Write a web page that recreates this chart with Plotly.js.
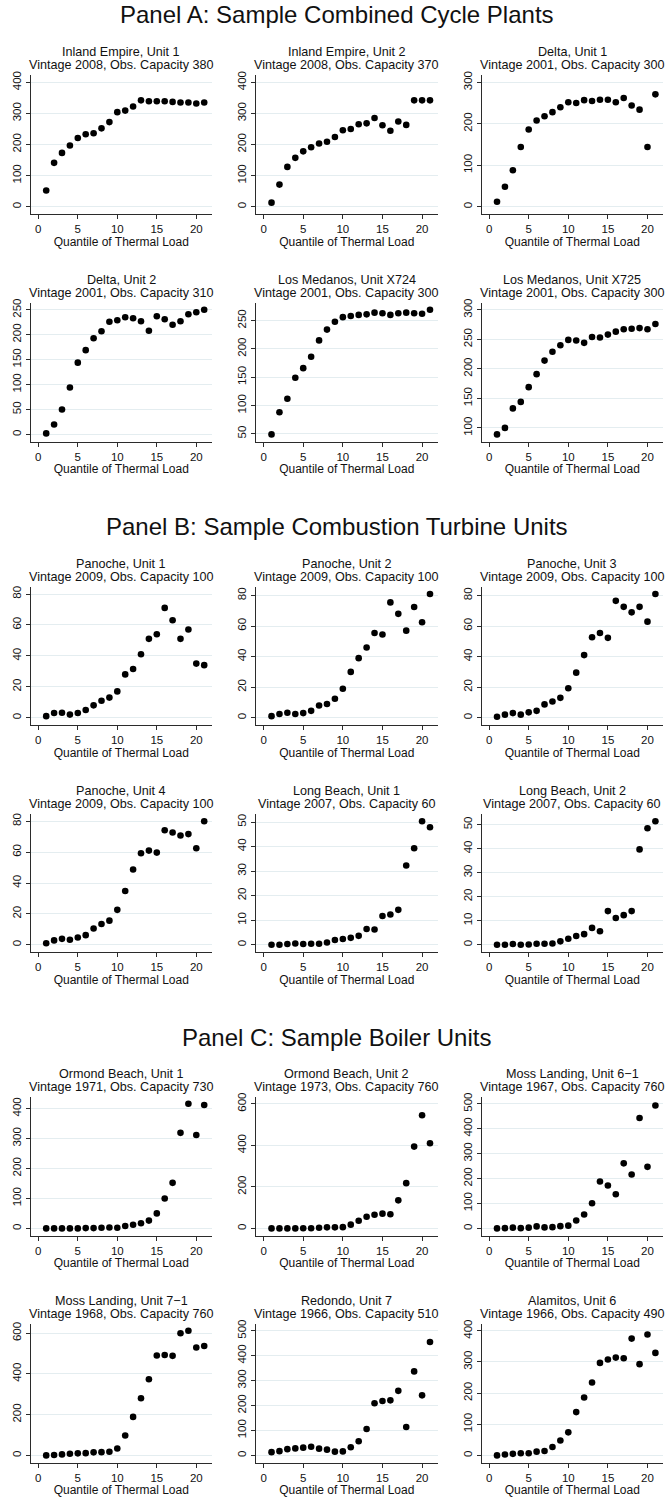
<!DOCTYPE html>
<html>
<head>
<meta charset="utf-8">
<script src="https://cdn.plot.ly/plotly-3.0.1.min.js"></script>
<style>html,body{margin:0;padding:0;background:#fff;}#chart{width:668px;height:1497px;}</style>
</head>
<body>
<div id="chart"></div>
<script>
// ---------- DATA ----------
const quantile = [1,2,3,4,5,6,7,8,9,10,11,12,13,14,15,16,17,18,19,20,21];
const xTicks = [0,5,10,15,20];
const xTitle = "Quantile of Thermal Load";

const panelTitles = [
  "Panel A: Sample Combined Cycle Plants",
  "Panel B: Sample Combustion Turbine Units",
  "Panel C: Sample Boiler Units"
];

const unitNames = [
  "Inland Empire, Unit 1", "Inland Empire, Unit 2", "Delta, Unit 1",
  "Delta, Unit 2", "Los Medanos, Unit X724", "Los Medanos, Unit X725",
  "Panoche, Unit 1", "Panoche, Unit 2", "Panoche, Unit 3",
  "Panoche, Unit 4", "Long Beach, Unit 1", "Long Beach, Unit 2",
  "Ormond Beach, Unit 1", "Ormond Beach, Unit 2", "Moss Landing, Unit 6\u22121",
  "Moss Landing, Unit 7\u22121", "Redondo, Unit 7", "Alamitos, Unit 6"
];
const unitInfo = [
  "Vintage 2008, Obs. Capacity 380", "Vintage 2008, Obs. Capacity 370", "Vintage 2001, Obs. Capacity 300",
  "Vintage 2001, Obs. Capacity 310", "Vintage 2001, Obs. Capacity 300", "Vintage 2001, Obs. Capacity 300",
  "Vintage 2009, Obs. Capacity 100", "Vintage 2009, Obs. Capacity 100", "Vintage 2009, Obs. Capacity 100",
  "Vintage 2009, Obs. Capacity 100", "Vintage 2007, Obs. Capacity 60", "Vintage 2007, Obs. Capacity 60",
  "Vintage 1971, Obs. Capacity 730", "Vintage 1973, Obs. Capacity 760", "Vintage 1967, Obs. Capacity 760",
  "Vintage 1968, Obs. Capacity 760", "Vintage 1966, Obs. Capacity 510", "Vintage 1966, Obs. Capacity 490"
];

const yTicks = [
  [0,100,200,300,400], [0,100,200,300,400], [0,100,200,300],
  [0,50,100,150,200,250], [50,100,150,200,250], [100,150,200,250,300],
  [0,20,40,60,80], [0,20,40,60,80], [0,20,40,60,80],
  [0,20,40,60,80], [0,10,20,30,40,50], [0,10,20,30,40,50],
  [0,100,200,300,400], [0,200,400,600], [0,100,200,300,400,500],
  [0,200,400,600], [0,100,200,300,400,500], [0,100,200,300,400]
];

const inlandEmpire1 = [52,141,173,197,221,233,236,252,272,304,309,322,342,339,339,339,337,335,335,332,335];
const inlandEmpire2 = [13,71,128,157,178,191,203,209,224,246,250,265,268,285,262,244,274,263,342,342,342];
const delta1       = [12,48,88,144,186,208,218,228,240,252,250,257,255,258,258,252,262,244,234,144,271];
const delta2       = [2,20,50,94,144,169,193,207,226,229,235,233,227,208,237,231,220,227,241,245,250];
const losMedanos724 = [49,88,112,149,166,186,215,234,248,256,258,260,261,264,263,260,263,264,263,262,269];
const losMedanos725 = [89,100,133,144,169,191,214,229,240,249,248,244,254,253,258,263,267,268,269,267,276];
const panoche1     = [1,3,3.2,2,3,5,8,11,13,17,28,31.5,41,51,54,71,63,51,57,35,34];
const panoche2     = [1,2.4,3.2,2.4,3,4.5,8,9,12.4,19,30,39,46,55.5,54.5,75.5,68,57,72.5,62.5,81];
const panoche3     = [0.6,2,3,2,3.5,4.5,8.7,10.6,13,19.3,29.5,41,52.7,55.5,52.3,76.5,72.6,69,72.6,62.9,81];
const panoche4     = [0.9,2.8,3.8,3.2,4.7,6.2,10.5,13.4,15.6,22.6,34.8,48.8,59.3,61,59.7,74.2,72.7,70.8,71.7,62.5,80];
const longBeach1   = [0,0,0.3,0.5,0.3,0.4,0.4,0.9,1.9,2.3,2.8,3.6,6.4,6.2,11.7,12.3,14.2,32.3,39.3,50.3,47.9];
const longBeach2   = [0,0,0.3,0,0.1,0.4,0.4,0.5,1.4,2.5,3.6,4.4,7.0,5.6,14,11.1,12.3,14,39.7,48.5,51.4];
const ormondBeach1 = [0,0,0,0,0,1,1,2,3,2,8,12,17,26,50,100,152,319,416,312,412];
const ormondBeach2 = [0,0,0,0,1,1,3,5,5,6,18,37,56,66,71,68,135,218,394,545,410];
const mossLanding61 = [0,1,3,1,3,8,4,5,9,11,32,56,101,188,172,137,261,216,443,247,493];
const mossLanding71 = [0,2,5,8,10,11,15,16,18,34,98,189,281,374,491,493,489,600,612,530,537];
const redondo7     = [13,17,25,28,31,35,27,23,15,16,33,57,106,209,218,221,259,114,337,241,455];
const alamitos6    = [0,3,5,7,7,12,14,27,48,74,139,186,234,297,308,314,312,375,293,388,329];

const seriesList = [
  inlandEmpire1, inlandEmpire2, delta1, delta2, losMedanos724, losMedanos725,
  panoche1, panoche2, panoche3, panoche4, longBeach1, longBeach2,
  ormondBeach1, ormondBeach2, mossLanding61, mossLanding71, redondo7, alamitos6
];

// ---------- GEOMETRY (pixels) ----------
const W = 668, H = 1497;
const colLeft  = [30.7, 256, 481.5];
const colRight = [211.8, 437.6, 663];
const rowTop    = [75, 302.5, 586.7, 814, 1096.5, 1323.5];
const rowBottom = [214, 441.7, 725, 952, 1235.7, 1462.7];
const panelTitleY = [14.5, 526, 1037.5];
const marginPx = 7.3;

const FONT = "Liberation Sans, Arial, Helvetica, sans-serif";
const AXCOL = "#2b2b2b";
const GRIDCOL = "#e4edf0";

const traces = [];
const layout = {
  width: W, height: H, autosize: false,
  margin: {l:0, r:0, t:0, b:0},
  paper_bgcolor: "#ffffff", plot_bgcolor: "#ffffff",
  showlegend: false,
  font: {family: FONT, color: "#111"},
  annotations: []
};

function py(px) { return 1 - px / H; }

seriesList.forEach((vals, i) => {
  const r = Math.floor(i / 3), c = i % 3;
  const id = i + 1;
  const xa = "xaxis" + (id === 1 ? "" : id), ya = "yaxis" + (id === 1 ? "" : id);
  const xr = "x" + (id === 1 ? "" : id), yr = "y" + (id === 1 ? "" : id);
  traces.push({
    type: "scatter", mode: "markers", x: quantile, y: vals,
    xaxis: xr, yaxis: yr, hoverinfo: "x+y",
    marker: {color: "#000000", size: 6.6, line: {width: 0}}
  });
  const wPx = colRight[c] - colLeft[c];
  const hPx = rowBottom[r] - rowTop[r];
  const xlo = Math.min(xTicks[0], Math.min(...quantile));
  const xhi = Math.max(xTicks[xTicks.length-1], Math.max(...quantile));
  const xpad = (xhi - xlo) * 7.6 / (wPx - 15.2);
  const t = yTicks[i];
  const ylo = Math.min(t[0], Math.min(...vals));
  const yhi = Math.max(t[t.length-1], Math.max(...vals));
  const ypad = (yhi - ylo) * marginPx / (hPx - 2*marginPx);

  layout[xa] = {
    domain: [colLeft[c] / W, colRight[c] / W],
    anchor: yr, range: [xlo - xpad, xhi + xpad],
    tickmode: "array", tickvals: xTicks, ticktext: xTicks.map(String),
    showline: true, linecolor: AXCOL, linewidth: 1,
    ticks: "outside", ticklen: 4, tickcolor: AXCOL, tickwidth: 1,
    showgrid: false, zeroline: false, fixedrange: true,
    tickfont: {family: FONT, size: 11.5, color: "#111"},
    title: {text: xTitle, font: {family: FONT, size: 12, color: "#111"}, standoff: 0}
  };
  layout[ya] = {
    domain: [py(rowBottom[r]), py(rowTop[r])],
    anchor: xr, range: [ylo - ypad, yhi + ypad],
    tickmode: "array", tickvals: t, ticktext: t.map(String), tickangle: -90,
    showline: true, linecolor: AXCOL, linewidth: 1,
    ticks: "outside", ticklen: 4, tickcolor: AXCOL, tickwidth: 1,
    showgrid: true, gridcolor: GRIDCOL, gridwidth: 1,
    zeroline: false, fixedrange: true,
    tickfont: {family: FONT, size: 11.5, color: "#111"}
  };
  const cx = (colLeft[c] + colRight[c]) / 2 / W;
  layout.annotations.push({
    text: unitNames[i], xref: "paper", yref: "paper", x: cx, y: py(rowTop[r] - 23),
    xanchor: "center", yanchor: "middle", showarrow: false,
    font: {family: FONT, size: 12.6, color: "#111"}
  });
  layout.annotations.push({
    text: unitInfo[i], xref: "paper", yref: "paper", x: cx, y: py(rowTop[r] - 10),
    xanchor: "center", yanchor: "middle", showarrow: false,
    font: {family: FONT, size: 12.6, color: "#111"}
  });
});

panelTitles.forEach((txt, k) => {
  layout.annotations.push({
    text: txt, xref: "paper", yref: "paper", x: 337 / W, y: py(panelTitleY[k]),
    xanchor: "center", yanchor: "middle", showarrow: false,
    font: {family: FONT, size: 24, color: "#111"}
  });
});

Plotly.newPlot("chart", traces, layout, {staticPlot: true, displayModeBar: false});
</script>
</body>
</html>
